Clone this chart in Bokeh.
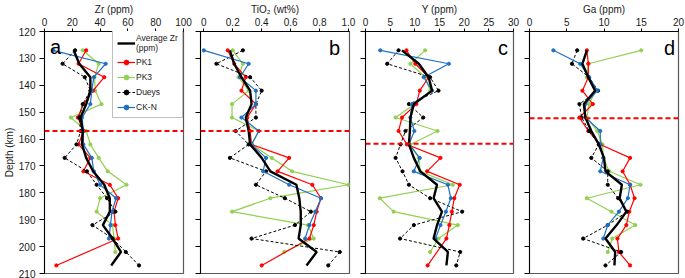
import numpy as np
from bokeh.plotting import figure
from bokeh.layouts import row
from bokeh.models import Range1d, FixedTicker, Span, Label, Legend, LegendItem
from bokeh.embed import file_html
from bokeh.resources import INLINE

nan = float("nan")

# depth levels (km)
depth = [127, 132, 137, 142, 147, 152, 157, 162, 167, 172, 177, 182, 187, 192, 197, 202, 207]

# Panel a: Zr (ppm)
avg_zr   = [21, 25, 33, 33, 30, 26, 27.5, 27, 30, 35, 43, 47, 47, 42, 49, 55, 48]
pk1_zr   = [30, 24.5, 43, 35, 28, 24, 28, 24.5, 33, 28, 47, 53, 50, 51, 53, nan, 8.5]
pk3_zr   = [27.5, 39, 36, 36.5, 41, 19, 30, 33, 39, 45.5, 59, 40, 37.5, 49, 50, 51, nan]
dueys_zr = [22, 13, 29, 33, 27.5, 25, 26, 23, 14.5, 30.5, 37.5, 45, 51, 34.5, 49, 58.5, 68]
ckn_zr   = [6.3, 44, 35.5, 34, 33, 27, 28, 28, 34, 35.5, 40, 51.5, 48.5, 47.5, 46.3, nan, nan]

# Panel b: TiO2 (wt%)
avg_ti   = [0.18, 0.21, 0.26, 0.32, 0.33, 0.29, 0.31, 0.32, 0.40, 0.46, 0.64, 0.66, 0.67, 0.67, 0.655, 0.78, 0.71]
pk1_ti   = [0.165, 0.21, 0.29, 0.26, 0.36, 0.30, 0.32, 0.33, 0.59, 0.51, 0.75, 0.81, 0.78, 0.76, 0.73, nan, 0.40]
pk3_ti   = [0.20, 0.27, 0.24, 0.31, 0.195, 0.195, 0.38, 0.33, 0.47, 0.61, 1.0, 0.46, 0.195, 0.72, 0.76, 0.556, nan]
dueys_ti = [0.27, 0.087, 0.32, 0.40, 0.36, 0.36, 0.22, 0.31, 0.18, 0.43, 0.36, 0.56, 0.74, 0.63, 0.33, 0.94, 0.86]
ckn_ti   = [0.0, 0.31, 0.25, 0.36, 0.36, 0.26, 0.38, 0.33, 0.43, 0.41, 0.59, 0.81, 0.77, 0.73, 0.70, nan, nan]

# Panel c: Y (ppm)
avg_y    = [7.4, 10.8, 12.8, 13.5, 9.8, 9.1, 9.0, 8.8, 9.8, 11.1, 14.5, 13.8, 15.5, 14.5, 13.8, 16.7, 16.4]
pk1_y    = [8.3, 10.1, 12.8, 11.0, 10.3, 7.4, 6.7, 8.4, 15.2, 12.5, 19.1, 18.0, 17.5, 17.0, 16.4, nan, 12.6]
pk3_y    = [12.1, 9.1, 12.1, 13.1, 10.0, 6.1, 14.6, 9.1, 10.8, 11.1, 17.7, 2.9, 5.7, 18.7, 14.8, 13.1, nan]
dueys_y  = [6.7, 4.4, 13.1, 14.8, 8.8, 11.7, 8.1, 7.1, 6.1, 7.5, 8.8, 13.1, 19.6, 9.8, 7.0, 19.2, 18.4]
ckn_y    = [3.0, 16.9, 11.8, 13.5, 9.4, 9.1, 9.9, 8.8, 11.0, 9.8, 16.7, 17.3, 16.3, 15.2, 14.2, nan, nan]

# Panel d: Ga (ppm)
avg_ga   = [7.7, 7.1, 7.9, 8.8, 7.3, 7.5, 8.3, 9.3, 10.0, 10.2, 12.4, 12.1, 13.0, 11.7, 10.2, 11.5, 11.4]
pk1_ga   = [7.7, 7.9, 7.9, 7.1, 8.5, 6.7, 7.9, 9.5, 13.5, 12.5, 13.5, 14.1, 13.4, 13.0, 11.8, 12.0, 13.5]
pk3_ga   = [15.0, 7.9, 7.7, 8.9, 8.0, 7.7, 9.1, 9.8, 9.9, 10.7, 14.9, 7.7, 11.0, 14.2, 11.1, 10.5, nan]
dueys_ga = [6.4, 5.7, 8.0, 9.2, 6.7, 7.0, 8.0, 9.3, 8.3, 10.5, 10.5, 11.9, 13.1, 10.5, 7.2, 12.3, 10.2]
ckn_ga   = [3.2, 6.8, 8.0, 9.1, 7.5, 7.5, 9.5, 9.5, 9.9, 9.5, 13.5, 13.2, 12.0, 10.5, 9.9, nan, nan]

# boundary depths (red dashed lines)
boundary = [157, 157, 161.7, 152.3]

series_names = ["Average Zr\n(ppm)", "PK1", "PK3", "Dueys", "CK-N"]
depth_ticks = [120, 130, 140, 150, 160, 170, 180, 190, 200, 210]

FONT = "Liberation Sans"
TXT = "#1a1a1a"
RED = "#FF0000"
GREEN = "#92D050"
BLUE = "#1F70C1"


def panel(vals, xlabel, xr, xticks, overrides, letter, letter_x, letter_align,
          bline, width, bl, br, first=False):
    p = figure(width=width, height=278, x_range=Range1d(*xr), y_range=Range1d(210, 120),
               x_axis_location="above", output_backend="svg", toolbar_location=None,
               min_border_left=bl, min_border_right=br, min_border_top=30, min_border_bottom=5)
    p.grid.visible = False
    p.outline_line_color = "#595959"
    p.outline_line_width = 1.2
    p.background_fill_color = "white"
    p.border_fill_color = "white"

    xa = p.xaxis[0]
    xa.ticker = FixedTicker(ticks=xticks)
    if overrides:
        xa.major_label_overrides = overrides
    xa.axis_label = xlabel
    xa.axis_label_text_font = FONT
    xa.axis_label_text_font_size = "10px"
    xa.axis_label_text_font_style = "normal"
    xa.axis_label_text_color = TXT
    xa.axis_label_standoff = 0
    xa.major_label_text_font = FONT
    xa.major_label_text_font_size = "10px"
    xa.major_label_text_color = TXT
    xa.major_label_standoff = 3
    xa.major_tick_out = 3
    xa.major_tick_in = 0
    xa.minor_tick_out = 0
    xa.minor_tick_in = 0
    xa.axis_line_color = "black"

    ya = p.yaxis[0]
    ya.ticker = FixedTicker(ticks=depth_ticks)
    ya.major_tick_out = 5
    ya.major_tick_in = 0
    ya.minor_tick_out = 0
    ya.minor_tick_in = 0
    ya.axis_line_color = "black"
    if first:
        ya.axis_label = "Depth (km)"
        ya.axis_label_text_font = FONT
        ya.axis_label_text_font_size = "10px"
        ya.axis_label_text_font_style = "normal"
        ya.axis_label_text_color = TXT
        ya.axis_label_standoff = 1
        ya.major_label_text_font = FONT
        ya.major_label_text_font_size = "10px"
        ya.major_label_text_color = TXT
        ya.major_label_standoff = 4
    else:
        ya.major_label_overrides = {t: "" for t in depth_ticks}
        ya.major_label_standoff = 0

    d = np.array(depth, dtype=float)
    styles = [
        dict(color="black", width=2.4, dash="solid", marker=False),
        dict(color=RED, width=1.2, dash="solid", marker=True),
        dict(color=GREEN, width=1.2, dash="solid", marker=True),
        dict(color="black", width=1.0, dash="3 2", marker=True),
        dict(color=BLUE, width=1.2, dash="solid", marker=True),
    ]
    items = []
    order = [2, 1, 3, 4, 0]
    rends = {}
    for k in order:
        v = np.array(vals[k], dtype=float)
        m = ~np.isnan(v)
        st = styles[k]
        rs = [p.line(v[m], d[m], line_color=st["color"], line_width=st["width"],
                     line_dash=st["dash"])]
        if st["marker"]:
            rs.append(p.scatter(v[m], d[m], marker="circle", size=3.2,
                                fill_color=st["color"], line_color=st["color"]))
        rends[k] = rs

    p.add_layout(Span(location=bline, dimension="width", line_color=RED,
                      line_width=2, line_dash="5 3"))

    p.add_layout(Label(x=letter_x, y=125.6 if letter == "a" else 126.3, text=letter,
                       text_font=FONT, text_font_size="20px", text_color="black",
                       text_align=letter_align, text_baseline="alphabetic"))

    if first:
        for k in range(5):
            items.append(LegendItem(label=series_names[k], renderers=rends[k]))
        lg = Legend(items=items, location=(68, 155), label_text_font=FONT,
                    label_text_font_size="8.5px", label_text_color=TXT,
                    label_text_line_height=1.0,
                    glyph_width=18, glyph_height=12, label_height=12,
                    label_standoff=1, spacing=3, padding=4, margin=0,
                    border_line_color="#808080", border_line_width=1,
                    background_fill_color="white", background_fill_alpha=1.0)
        p.add_layout(lg)
    return p


pa = panel([avg_zr, pk1_zr, pk3_zr, dueys_zr, ckn_zr], "Zr (ppm)", (0, 100),
           [0, 20, 40, 60, 80, 100], None, "a", 4.0, "left", boundary[0],
           192, 39, 9, first=True)
pb = panel([avg_ti, pk1_ti, pk3_ti, dueys_ti, ckn_ti], "TiO\u2082 (wt%)", (-0.023, 1.007),
           [0, 0.2, 0.4, 0.6, 0.8, 1.0],
           {0: "0", 0.2: "0.2", 0.4: "0.4", 0.6: "0.6", 0.8: "0.8", 1.0: "1.0"},
           "b", 0.943, "right", boundary[1], 165, 8, 8)
pc = panel([avg_y, pk1_y, pk3_y, dueys_y, ckn_y], "Y (ppm)", (0, 30),
           [0, 5, 10, 15, 20, 25, 30], None, "c", 28.9, "right", boundary[2],
           164, 8, 8)
pd_ = panel([avg_ga, pk1_ga, pk3_ga, dueys_ga, ckn_ga], "Ga (ppm)", (0, 20),
            [0, 5, 10, 15, 20], None, "d", 19.56, "right", boundary[3],
            164, 8, 7)

layout = row(pa, pb, pc, pd_, spacing=0)
open("out.html", "w").write(file_html(layout, INLINE))
